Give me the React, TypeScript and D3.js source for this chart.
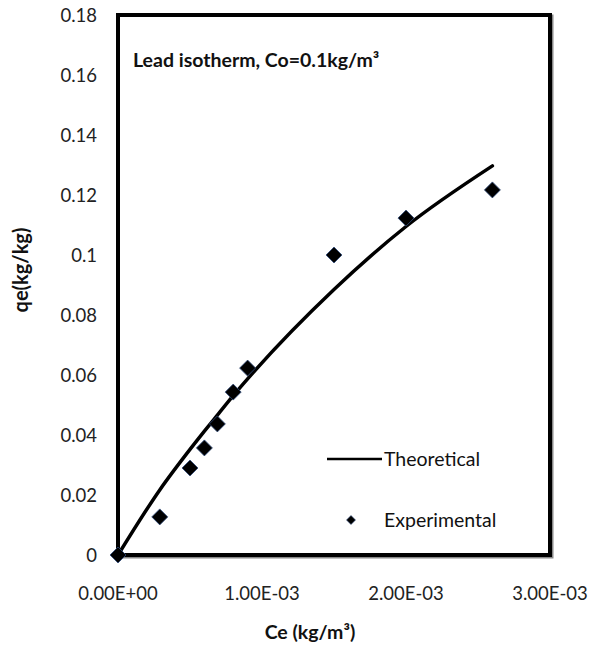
import React from "react";
import * as d3 from "d3";

const expCe = [0, 0.00029, 0.0005, 0.0006, 0.00069, 0.0008, 0.0009, 0.0015, 0.002, 0.0026];
const expQe = [0, 0.0127, 0.029, 0.0357, 0.0437, 0.0543, 0.0623, 0.1, 0.1123, 0.1217];
const theoCe = [0, 0.00029, 0.0005, 0.0006, 0.0007, 0.0008, 0.0009, 0.0015, 0.002, 0.0026];
const theoQe = [0, 0.0217, 0.0352, 0.0413, 0.0472, 0.0531, 0.0587, 0.0885, 0.1095, 0.1297];
const xTicks = [0, 0.001, 0.002, 0.003];
const xTickLabels = ["0.00E+00", "1.00E-03", "2.00E-03", "3.00E-03"];
const yTicks = [0, 0.02, 0.04, 0.06, 0.08, 0.1, 0.12, 0.14, 0.16, 0.18];
const yTickLabels = ["0", "0.02", "0.04", "0.06", "0.08", "0.1", "0.12", "0.14", "0.16", "0.18"];

const W = 592, H = 647;
const L = 118, R = 550, T = 15, B = 555;
const FONT = "Lato, 'Open Sans', sans-serif";

export default function App() {
  const x = d3.scaleLinear().domain([0, 0.003]).range([L, R]);
  const y = d3.scaleLinear().domain([0, 0.18]).range([B, T]);
  const line = d3.line<number>().x((_, i) => x(theoCe[i])).y((d) => y(d)).curve(d3.curveMonotoneX);
  const diamond = (cx: number, cy: number, r: number) =>
    `M${cx},${cy - r}L${cx + r},${cy}L${cx},${cy + r}L${cx - r},${cy}Z`;

  return (
    <svg width={W} height={H} style={{ position: "absolute", left: 0, top: 0, background: "#fff" }} fontFamily={FONT}>
      <rect x={0} y={0} width={W} height={H} fill="#fff" />
      <rect x={L + 1.5} y={T + 1.5} width={R - L} height={B - T} fill="none" stroke="#888" strokeWidth={4} />
      <rect x={L} y={T} width={R - L} height={B - T} fill="#fff" stroke="#000" strokeWidth={4} />
      {yTicks.map((t, i) => (
        <text key={"y" + i} x={97} y={y(t)} dy="0.36em" textAnchor="end" fontSize={18.5} fill="#222">
          {yTickLabels[i]}
        </text>
      ))}
      {xTicks.map((t, i) => (
        <text key={"x" + i} x={x(t)} y={600} textAnchor="middle" fontSize={18.5} fill="#222">
          {xTickLabels[i]}
        </text>
      ))}
      <text x={310} y={639} textAnchor="middle" fontSize={19.5} fontWeight="bold" fill="#111">
        Ce (kg/m³)
      </text>
      <text transform={`translate(28,270) rotate(-90)`} textAnchor="middle" fontSize={20} fontWeight="bold" fill="#111">
        qe(kg/kg)
      </text>
      <text x={133} y={67} fontSize={19.5} fontWeight="bold" fill="#111">
        Lead isotherm, Co=0.1kg/m³
      </text>
      <path d={line(theoQe) || ""} fill="none" stroke="#000" strokeWidth={3.5} strokeLinecap="round" />
      {expCe.map((c, i) => (
        <path key={"p" + i} d={diamond(x(c), y(expQe[i]), 8)} fill="#000" stroke="#2e4a7a" strokeWidth={0.8} />
      ))}
      <line x1={327} x2={382} y1={459} y2={459} stroke="#000" strokeWidth={2.5} />
      <text x={384} y={466} fontSize={19.5} fill="#111">Theoretical</text>
      <path d={diamond(351, 520, 4.5)} fill="#000" stroke="#2e4a7a" strokeWidth={0.6} />
      <text x={384} y={527} fontSize={19.5} fill="#111">Experimental</text>
    </svg>
  );
}
